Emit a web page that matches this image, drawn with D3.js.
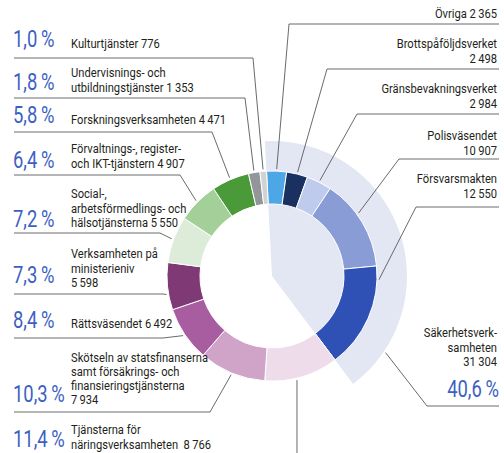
<!DOCTYPE html>
<html>
<head>
<meta charset="utf-8">
<script src="https://cdn.jsdelivr.net/npm/d3@7"></script>
<style>
  body { margin: 0; background: #fff; }
  svg text { font-family: Roboto, "Noto Sans", sans-serif; white-space: pre; }
</style>
</head>
<body>
<div id="chart"></div>
<script>
// slices, clockwise from the top
var names = ["Övriga", "Brottspåföljdsverket", "Gränsbevakningsverket", "Polisväsendet", "Försvarsmakten",
  "Tjänsterna för näringsverksamheten", "Skötseln av statsfinanserna", "Rättsväsendet",
  "Verksamheten på ministerieniv", "Social-, arbetsförmedlings- och hälsotjänsterna",
  "Förvaltnings-, register- och IKT-tjänstern", "Forskningsverksamheten",
  "Undervisnings- och utbildningstjänster", "Kulturtjänster"];
var values = [2365, 2498, 2984, 10907, 12550, 8766, 7934, 6492, 5598, 5550, 4907, 4471, 1353, 776];

// label text, {v} = value
var labelLines = [
  ["Övriga {v}"],
  ["Brottspåföljdsverket", "{v}"],
  ["Gränsbevakningsverket", "{v}"],
  ["Polisväsendet", "{v}"],
  ["Försvarsmakten", "{v}"],
  ["Tjänsterna för", "näringsverksamheten  {v}"],
  ["Skötseln av statsfinanserna", "samt försäkrings- och", "finansieringstjänsterna", "{v}"],
  ["Rättsväsendet {v}"],
  ["Verksamheten på", "ministerieniv", "{v}"],
  ["Social-,", "arbetsförmedlings- och", "hälsotjänsterna {v}"],
  ["Förvaltnings-, register-", "och IKT-tjänstern {v}"],
  ["Forskningsverksamheten {v}"],
  ["Undervisnings- och", "utbildningstjänster {v}"],
  ["Kulturtjänster {v}"]
];

// the first five slices make up the group
var groupSize = 5;
var groupLines = ["Säkerhetsverk-", "samheten", "{v}"];

var colors = ["#4da6e6", "#1a3060", "#bfcbec", "#8a9cd6", "#2f50b5",
  "#eedcea", "#d0a3c9", "#a75d9f", "#7f3a75",
  "#dcecd8", "#a3cf98", "#4a9a3a", "#939598", "#d0d2d3"];

// svg
var width = 504, height = 453;
var cx = 272, cy = 276;
var rIn = 72, rOut = 105, rBg = 135;
var deg = Math.PI / 180;
var start = -3 * deg;

var locale = d3.formatLocale({decimal: ",", thousands: "\u2009", grouping: [3], currency: ["", ""]});
var fmtNum = locale.format(",d");
var fmtPct = function (p) { return locale.format(".1f")(p) + "\u2009%"; };

var total = d3.sum(values);
var groupValue = d3.sum(values.slice(0, groupSize));

// label placement: baseline of first line, pct baseline, rule y, elbow x, anchor angle (deg)
var layout = [
  {side: "r", y: 18, rule: 24, elbow: 289},
  {side: "r", y: 48, rule: 69, elbow: 327},
  {side: "r", y: 93, rule: 114, elbow: 357},
  {side: "r", y: 140, rule: 159, elbow: 399, anchor: 54},
  {side: "r", y: 183, rule: 207, elbow: 416, anchor: 92},
  {side: "l", y: 434, pct: 447, down: true, anchor: 166.5},
  {side: "l", y: 362, pct: 402, rule: 412, elbow: 210, lh: 14},
  {side: "l", y: 328, pct: 328, rule: 338, elbow: 163},
  {side: "l", y: 258, pct: 283, rule: 294, elbow: 163, anchor: 260},
  {side: "l", y: 198, pct: 227, rule: 233, elbow: 160},
  {side: "l", y: 153, pct: 168, rule: 175, elbow: 180},
  {side: "l", y: 124, pct: 123, rule: 132, elbow: 212},
  {side: "l", y: 77, pct: 90, rule: 98, elbow: 245},
  {side: "l", y: 48, pct: 47, rule: 58, elbow: 253}
];
var groupLayout = {y: 337, pct: 397, rule: 406, elbow: 427, anchor: 124};

var svg = d3.select("#chart").append("svg")
  .attr("width", width)
  .attr("height", height);

var g = svg.append("g").attr("transform", "translate(" + cx + "," + cy + ")");

var pie = d3.pie().sort(null).startAngle(start).endAngle(start + 2 * Math.PI);
var arcs = pie(values);

// group background wedge
g.append("path")
  .attr("d", d3.arc()({innerRadius: 0, outerRadius: rBg,
    startAngle: arcs[0].startAngle, endAngle: arcs[groupSize - 1].endAngle}))
  .attr("fill", "#e2e7f3");

var arc = d3.arc().innerRadius(rIn).outerRadius(rOut);
g.selectAll("path.slice")
  .data(arcs)
  .enter()
  .append("path")
  .attr("class", "slice")
  .attr("d", arc)
  .attr("fill", (d, i) => colors[i])
  .attr("stroke", "#fff")
  .attr("stroke-width", 1);

function pointAt(a, r) {
  return [cx + r * Math.sin(a), cy - r * Math.cos(a)];
}

var lines = svg.append("g")
  .attr("fill", "none")
  .attr("stroke", "#58595b")
  .attr("stroke-width", 0.9);
var texts = svg.append("g");

// condensed look: squeeze text horizontally
function addText(x, y, anchor, size, fill, sx, str) {
  texts.append("text")
    .attr("transform", "translate(" + x + "," + y + ") scale(" + sx + ",1)")
    .attr("text-anchor", anchor)
    .attr("font-size", size)
    .attr("fill", fill)
    .text(str);
}

function drawLabel(L, lineTexts, value, pctText, angle, r) {
  var p = pointAt(angle, r);
  var right = L.side == "r";
  var lh = L.lh || 14.5;
  var anchor = right ? "end" : "start";
  lineTexts.forEach(function (t, k) {
    addText(right ? 497 : 71, L.y + k * lh, anchor, 13, "#231f20", 0.86, t.replace("{v}", fmtNum(value)));
  });
  if (pctText) {
    addText(right ? 499 : 13, L.pct, anchor, 23, "#3d5fc4", 0.8, pctText);
  }
  if (L.down) {
    lines.append("path").attr("d", "M" + p[0] + "," + p[1] + "V" + (height + 5));
  } else {
    var x0 = right ? 499 : 14;
    lines.append("path")
      .attr("d", "M" + x0 + "," + L.rule + "H" + L.elbow + "L" + p[0] + "," + p[1]);
  }
}

arcs.forEach(function (d, i) {
  var L = layout[i];
  var a = L.anchor != null ? L.anchor * deg : (d.startAngle + d.endAngle) / 2;
  var pct = L.side == "l" ? fmtPct(values[i] / total * 100) : null;
  drawLabel(L, labelLines[i], values[i], pct, a, rOut + 2);
});

drawLabel(Object.assign({side: "r"}, groupLayout), groupLines, groupValue,
  fmtPct(groupValue / total * 100), groupLayout.anchor * deg, rBg + 2);
</script>
</body>
</html>
